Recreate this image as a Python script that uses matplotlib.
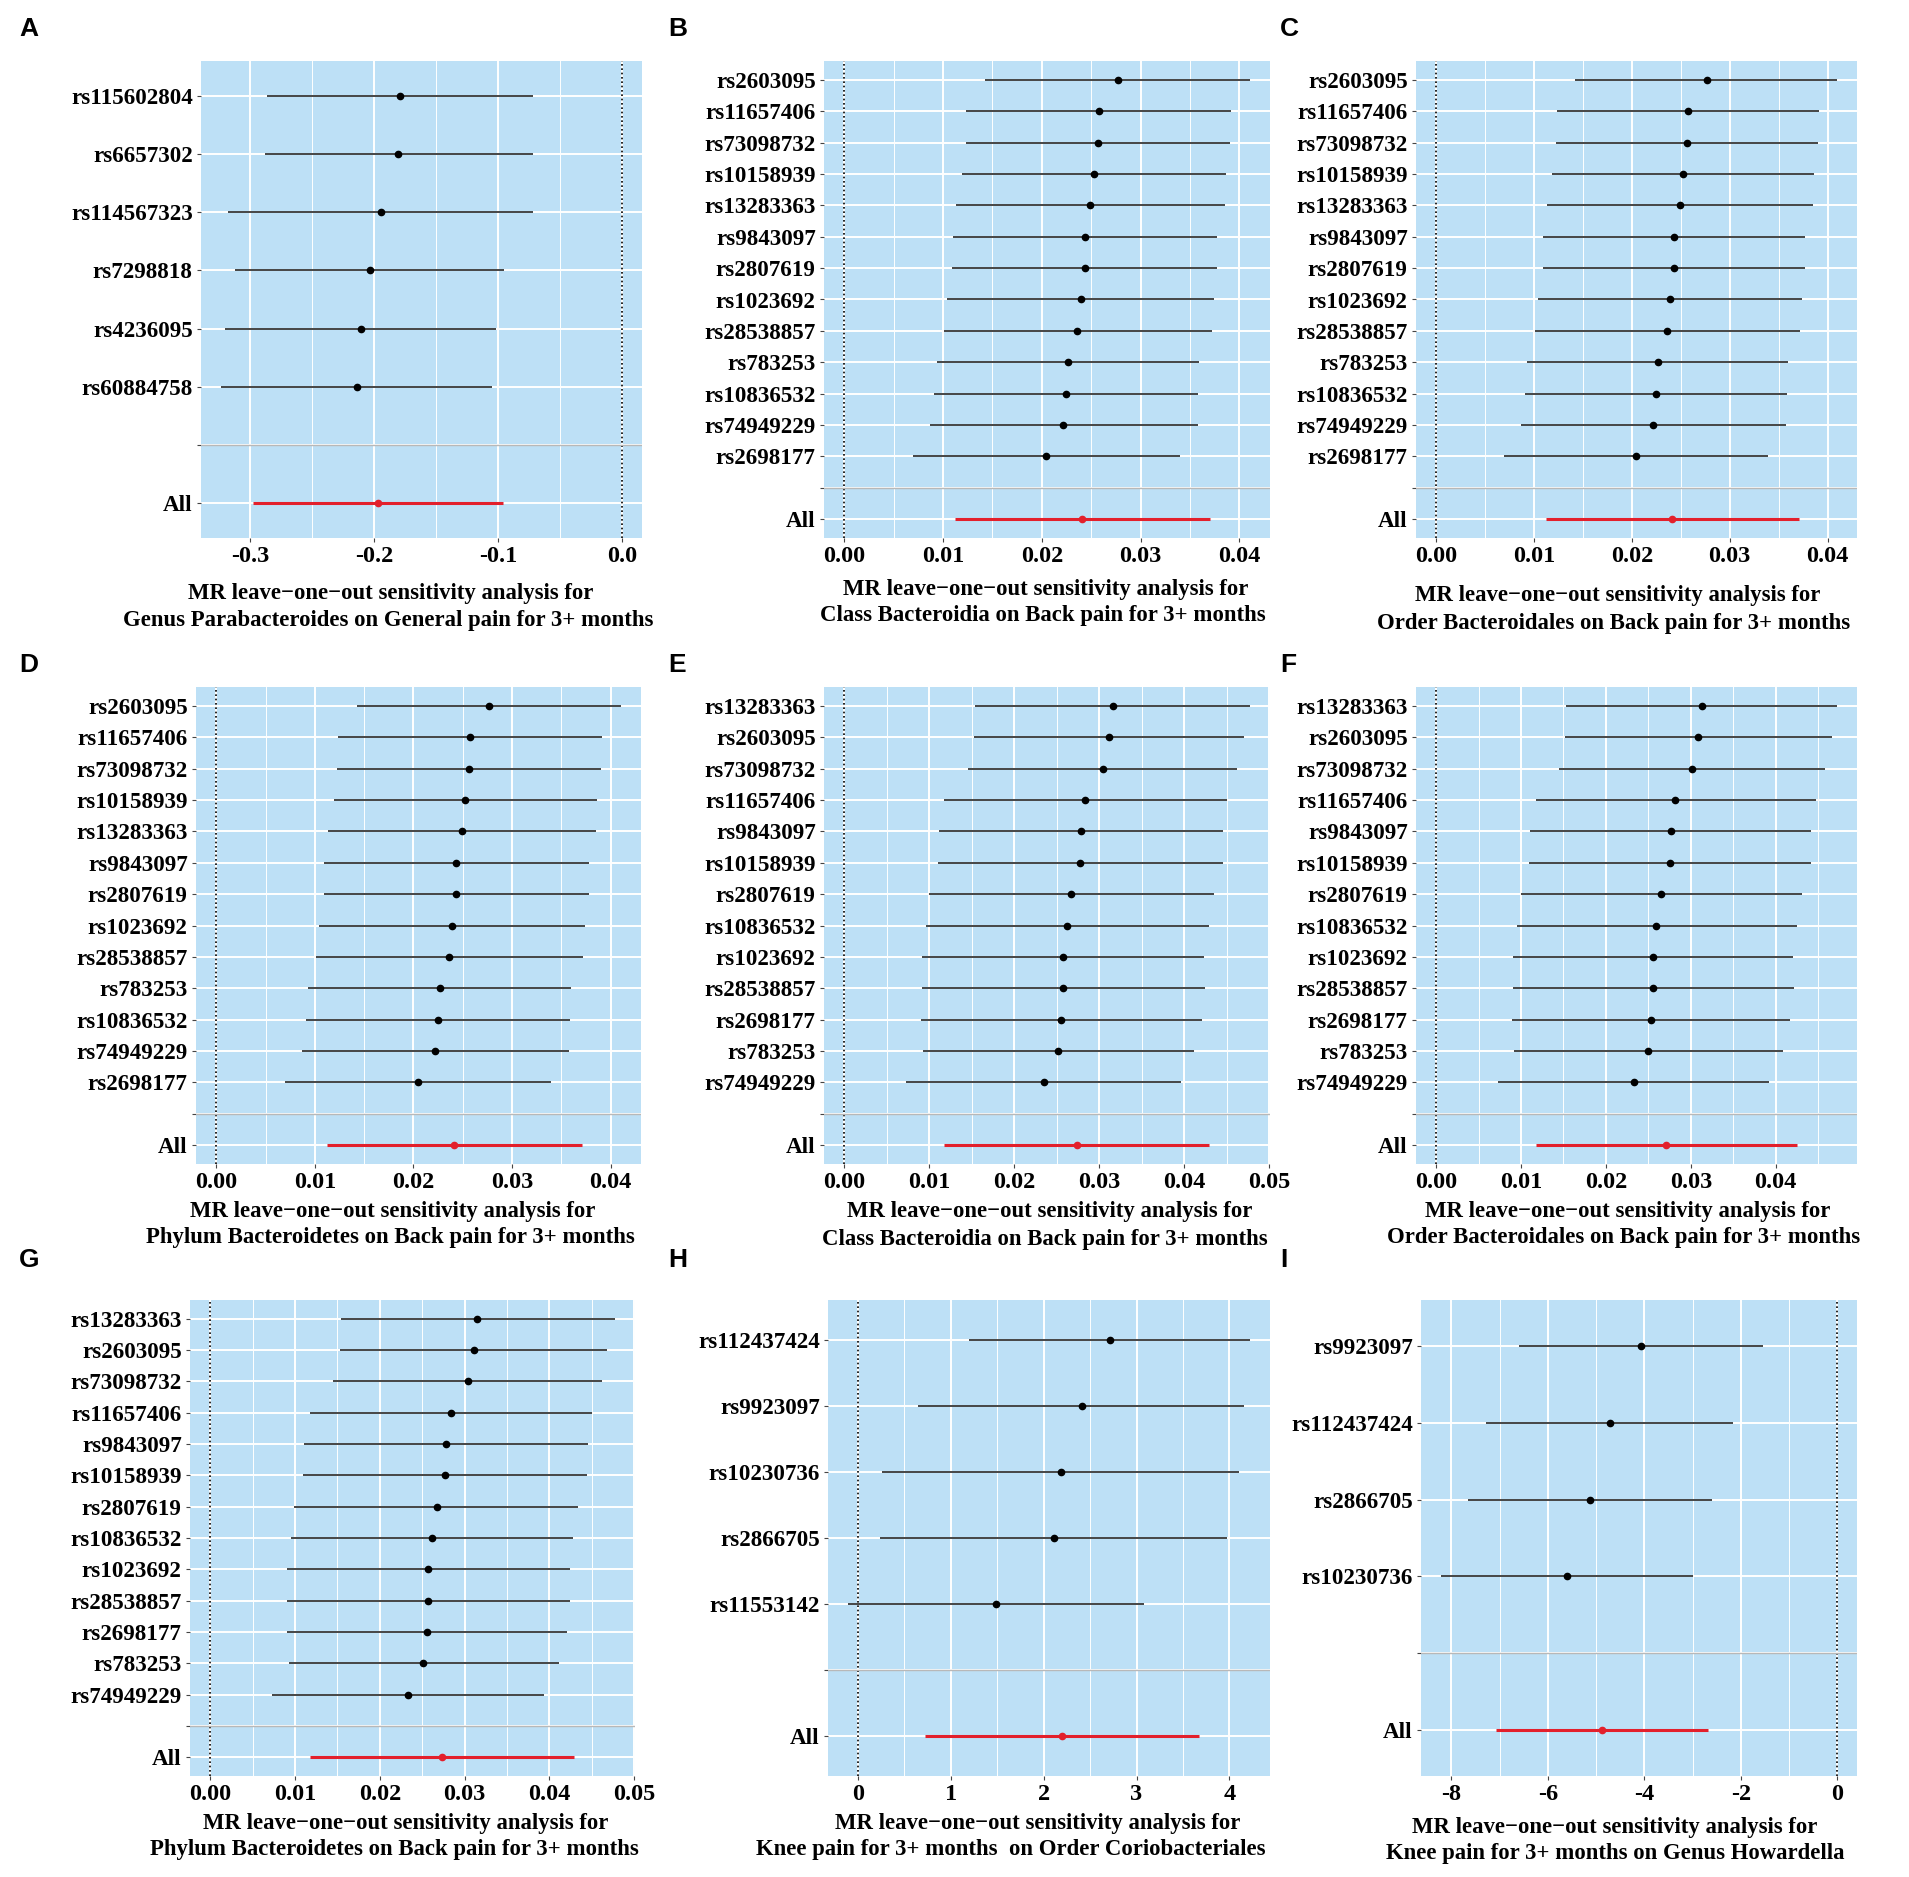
import matplotlib
matplotlib.use("Agg")
import matplotlib.pyplot as plt
from matplotlib.ticker import MultipleLocator, FormatStrFormatter

# ---------------- data ----------------
A_snps = ["rs115602804", "rs6657302", "rs114567323", "rs7298818", "rs4236095", "rs60884758"]
A_b  = [-0.1793, -0.1807, -0.1946, -0.2034, -0.2108, -0.2142]
A_lo = [-0.2864, -0.2885, -0.3183, -0.3122, -0.3203, -0.3237]
A_hi = [-0.0719, -0.0719, -0.0719, -0.0953, -0.1017, -0.1047]
A_all = [-0.1969, -0.2983, -0.0959]

B_snps = ["rs2603095", "rs11657406", "rs73098732", "rs10158939", "rs13283363", "rs9843097",
          "rs2807619", "rs1023692", "rs28538857", "rs783253", "rs10836532", "rs74949229", "rs2698177"]
B_b  = [0.02767, 0.02576, 0.02567, 0.02525, 0.02491, 0.02436, 0.02436, 0.02393, 0.02359,
        0.02266, 0.02249, 0.02219, 0.02045]
B_lo = [0.01428, 0.01237, 0.01228, 0.01190, 0.01131, 0.01097, 0.01092, 0.01041, 0.01007,
        0.00935, 0.00910, 0.00867, 0.00697]
B_hi = [0.04106, 0.03915, 0.03906, 0.03864, 0.03851, 0.03775, 0.03775, 0.03741, 0.03719,
        0.03596, 0.03583, 0.03579, 0.03396]
B_all = [0.02410, 0.01122, 0.03707]

C_snps = list(B_snps)
C_b  = [0.02764, 0.02574, 0.02566, 0.02523, 0.02489, 0.02433, 0.02433, 0.02392, 0.02357,
        0.02264, 0.02248, 0.02218, 0.02043]
C_lo = [0.01424, 0.01236, 0.01227, 0.01189, 0.01130, 0.01096, 0.01091, 0.01040, 0.01006,
        0.00934, 0.00910, 0.00866, 0.00696]
C_hi = [0.04096, 0.03912, 0.03903, 0.03861, 0.03849, 0.03772, 0.03773, 0.03738, 0.03716,
        0.03594, 0.03581, 0.03576, 0.03394]
C_all = [0.02408, 0.01121, 0.03705]

D_snps = list(B_snps)
D_b  = [0.02766, 0.02576, 0.02567, 0.02525, 0.02491, 0.02436, 0.02436, 0.02393, 0.02359,
        0.02266, 0.02249, 0.02219, 0.02045]
D_lo = [0.01430, 0.01237, 0.01228, 0.01190, 0.01131, 0.01097, 0.01092, 0.01041, 0.01007,
        0.00935, 0.00910, 0.00867, 0.00697]
D_hi = [0.04102, 0.03915, 0.03906, 0.03864, 0.03851, 0.03775, 0.03775, 0.03741, 0.03719,
        0.03596, 0.03583, 0.03579, 0.03396]
D_all = [0.02410, 0.01122, 0.03707]

E_snps = ["rs13283363", "rs2603095", "rs73098732", "rs11657406", "rs9843097", "rs10158939",
          "rs2807619", "rs10836532", "rs1023692", "rs28538857", "rs2698177", "rs783253", "rs74949229"]
E_b  = [0.03158, 0.03113, 0.03040, 0.02837, 0.02783, 0.02773, 0.02665, 0.02621, 0.02576,
        0.02571, 0.02552, 0.02512, 0.02345]
E_lo = [0.01542, 0.01532, 0.01453, 0.01177, 0.01118, 0.01108, 0.01000, 0.00960, 0.00911,
        0.00911, 0.00901, 0.00921, 0.00729]
E_hi = [0.04770, 0.04700, 0.04621, 0.04507, 0.04453, 0.04453, 0.04345, 0.04286, 0.04236,
        0.04246, 0.04207, 0.04118, 0.03956]
E_all = [0.02734, 0.01177, 0.04286]

F_snps = list(E_snps)
F_b  = [0.03130, 0.03087, 0.03014, 0.02817, 0.02764, 0.02755, 0.02649, 0.02596, 0.02553,
        0.02553, 0.02534, 0.02500, 0.02327]
F_lo = [0.01534, 0.01514, 0.01442, 0.01173, 0.01106, 0.01096, 0.01000, 0.00957, 0.00904,
        0.00904, 0.00894, 0.00918, 0.00731]
F_hi = [0.04721, 0.04663, 0.04582, 0.04471, 0.04418, 0.04418, 0.04308, 0.04245, 0.04202,
        0.04212, 0.04173, 0.04091, 0.03918]
F_all = [0.02712, 0.01178, 0.04250]

G_snps = list(E_snps)
G_b  = [0.03143, 0.03108, 0.03034, 0.02842, 0.02778, 0.02773, 0.02670, 0.02616, 0.02571,
        0.02571, 0.02557, 0.02512, 0.02335]
G_lo = [0.01542, 0.01532, 0.01453, 0.01177, 0.01108, 0.01099, 0.00990, 0.00951, 0.00911,
        0.00901, 0.00901, 0.00926, 0.00734]
G_hi = [0.04770, 0.04680, 0.04621, 0.04507, 0.04458, 0.04443, 0.04340, 0.04276, 0.04241,
        0.04241, 0.04212, 0.04108, 0.03941]
G_all = [0.02734, 0.01177, 0.04286]

H_snps = ["rs112437424", "rs9923097", "rs10230736", "rs2866705", "rs11553142"]
H_b  = [2.711, 2.412, 2.185, 2.108, 1.491]
H_lo = [1.197, 0.653, 0.263, 0.240, -0.104]
H_hi = [4.220, 4.161, 4.098, 3.976, 3.083]
H_all = [2.194, 0.725, 3.667]

I_snps = ["rs9923097", "rs112437424", "rs2866705", "rs10230736"]
I_b  = [-4.076, -4.720, -5.127, -5.610]
I_lo = [-6.600, -7.280, -7.650, -8.220]
I_hi = [-1.542, -2.170, -2.600, -2.983]
I_all = [-4.873, -7.076, -2.669]

letters = ["A", "B", "C", "D", "E", "F", "G", "H", "I"]
title1 = "MR leave\u2212one\u2212out sensitivity analysis for"
title2 = ["Genus Parabacteroides on General pain for 3+ months",
          "Class Bacteroidia on Back pain for 3+ months",
          "Order Bacteroidales on Back pain for 3+ months",
          "Phylum Bacteroidetes on Back pain for 3+ months",
          "Class Bacteroidia on Back pain for 3+ months",
          "Order Bacteroidales on Back pain for 3+ months",
          "Phylum Bacteroidetes on Back pain for 3+ months",
          "Knee pain for 3+ months  on Order Coriobacteriales",
          "Knee pain for 3+ months on Genus Howardella"]
tick_step = [0.1, 0.01, 0.01, 0.01, 0.01, 0.01, 0.01, 1, 2]
tick_fmt = ["%.1f", "%.2f", "%.2f", "%.2f", "%.2f", "%.2f", "%.2f", "%d", "%d"]

panels = [
    (A_snps, A_b, A_lo, A_hi, A_all),
    (B_snps, B_b, B_lo, B_hi, B_all),
    (C_snps, C_b, C_lo, C_hi, C_all),
    (D_snps, D_b, D_lo, D_hi, D_all),
    (E_snps, E_b, E_lo, E_hi, E_all),
    (F_snps, F_b, F_lo, F_hi, F_all),
    (G_snps, G_b, G_lo, G_hi, G_all),
    (H_snps, H_b, H_lo, H_hi, H_all),
    (I_snps, I_b, I_lo, I_hi, I_all),
]

# ---------------- layout (pixels) ----------------
W, H = 1909, 1877
rects = [  # left, right, top, bottom
    (201, 642, 61, 538), (824, 1270, 61, 538), (1416, 1857, 61, 538),
    (196, 641, 687, 1164), (824, 1270, 687, 1164), (1416, 1857, 687, 1164),
    (190, 635, 1300, 1776), (828, 1270, 1300, 1776), (1421, 1857, 1300, 1776),
]
title_xy = [  # (x1, y1, x2, y2)
    (391, 593, 388, 620), (1046, 589, 1043, 616), (1618, 596, 1614, 623),
    (393, 1211, 390, 1238), (1050, 1212, 1045, 1239), (1628, 1211, 1624, 1238),
    (406, 1824, 394, 1849), (1038, 1824, 1011, 1849), (1615, 1827, 1615, 1853),
]
letter_xy = [(19, 29), (668, 29), (1280, 29),
             (19, 665), (668, 665), (1280, 665),
             (19, 1260), (668, 1260), (1280, 1260)]

BG = "#BDE0F6"
SERIF = "Liberation Serif"

fig = plt.figure(figsize=(W / 100, H / 100), dpi=100)
fig.patch.set_facecolor("white")

for k, (snps, b, lo, hi, allv) in enumerate(panels):
    l, r, t, btm = rects[k]
    ax = fig.add_axes([l / W, 1 - btm / H, (r - l) / W, (btm - t) / H])
    ax.set_facecolor(BG)
    for s in ax.spines.values():
        s.set_visible(False)

    levels = list(snps) + ["", "All"]
    n = len(levels)
    ypos = {lab: n - i for i, lab in enumerate(levels)}

    # x range like ggplot: include 0 line, 5% expansion
    xmin = min(0, min(lo), allv[1])
    xmax = max(0, max(hi), allv[2])
    pad = 0.05 * (xmax - xmin)
    ax.set_xlim(xmin - pad, xmax + pad)
    ax.set_ylim(0.4, n + 0.6)

    ax.xaxis.set_major_locator(MultipleLocator(tick_step[k]))
    ax.xaxis.set_minor_locator(MultipleLocator(tick_step[k] / 2))
    ax.xaxis.set_major_formatter(FormatStrFormatter(tick_fmt[k]))
    ax.set_yticks([ypos[lab] for lab in levels])
    ax.set_yticklabels(levels)

    ax.grid(True, which="major", color="white", lw=1.4, zorder=0)
    ax.grid(True, which="minor", axis="x", color="white", lw=0.7, zorder=0)
    ax.set_axisbelow(True)

    ax.tick_params(axis="both", which="major", length=3, width=0.8, color="#444444")
    ax.tick_params(axis="x", which="minor", length=0)
    ax.tick_params(axis="x", pad=3)
    ax.tick_params(axis="y", pad=3)
    for lab in ax.get_xticklabels():
        lab.set_fontfamily(SERIF)
        lab.set_fontweight("bold")
        lab.set_fontsize(17.5)
        lab.set_color("black")
    for lab in ax.get_yticklabels():
        lab.set_fontfamily(SERIF)
        lab.set_fontweight("bold")
        lab.set_fontsize(16.6)
        lab.set_color("black")

    ax.axvline(0, color="black", ls=(0, (1, 1.6)), lw=1.2, zorder=2)

    ys = [ypos[s] for s in snps]
    ax.hlines(ys, lo, hi, color="#262626", lw=1.2, zorder=3)
    ax.plot(b, ys, "o", color="black", ms=4.5, zorder=4)
    ya = ypos["All"]
    ax.hlines([ya], [allv[1]], [allv[2]], color="#E3202C", lw=2.2, zorder=3)
    ax.plot([allv[0]], [ya], "o", color="#E3202C", ms=4.5, zorder=4)
    ax.axhline(ypos[""], color="#B8B8B8", lw=1.0, zorder=5)

    x1, y1, x2, y2 = title_xy[k]
    fig.text(x1 / W, 1 - y1 / H, title1, ha="center", va="center",
             fontfamily=SERIF, fontweight="bold", fontsize=16.4)
    fig.text(x2 / W, 1 - y2 / H, title2[k], ha="center", va="center",
             fontfamily=SERIF, fontweight="bold", fontsize=16.4)

    lx, ly = letter_xy[k]
    fig.text(lx / W, 1 - ly / H, letters[k], ha="left", va="center",
             fontfamily="Liberation Sans", fontweight="bold", fontsize=19)

fig.savefig("out.png", dpi=100, facecolor="white")
